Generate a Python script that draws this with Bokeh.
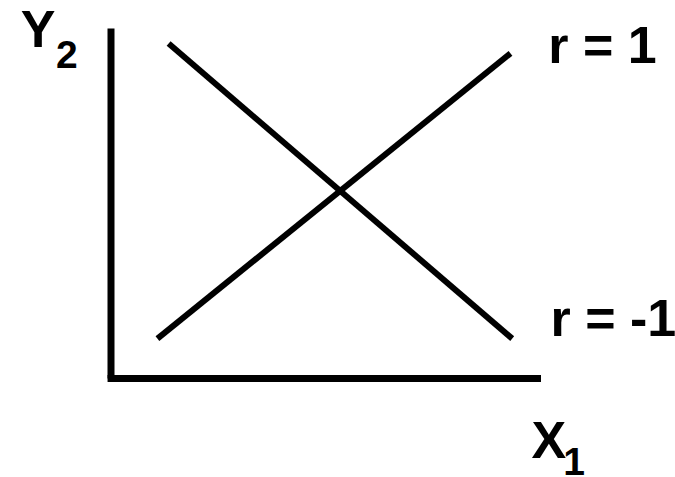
from bokeh.plotting import figure
from bokeh.models import Range1d
from bokeh.core.properties import value
from bokeh.embed import file_html
from bokeh.resources import INLINE

# Axis lines (data units)
y_axis_x = [0.0, 0.0]
y_axis_y = [0.0, 10.0]
x_axis_x = [-0.08, 10.0]
x_axis_y = [0.0, 0.0]

# Correlation lines
pos_x = [1.08, 9.29]
pos_y = [1.14, 9.29]
neg_x = [1.34, 9.33]
neg_y = [9.57, 1.14]

# Labels
label_text = ["r = 1", "r = -1"]
label_x = [10.17, 10.22]
label_y = [9.52, 1.72]

axis_main_text = ["Y", "X"]
axis_main_x = [-2.10, 9.78]
axis_main_y = [10.0, -1.76]
axis_sub_text = ["2", "1"]
axis_sub_x = [-1.28, 10.52]
axis_sub_y = [9.26, -2.37]

W, H = 675, 477
ox, oy = 110.5, 378   # origin in figure pixels
sx, sy = 43.0, 35.0

p = figure(width=W, height=H, output_backend="svg", toolbar_location=None,
           x_range=Range1d(-ox / sx, (W - ox) / sx),
           y_range=Range1d(-(H - oy) / sy, oy / sy),
           min_border=0, outline_line_color=None)
p.axis.visible = False
p.grid.visible = False
p.background_fill_color = "white"
p.border_fill_color = "white"

p.line(y_axis_x, y_axis_y, line_width=7, line_color="black", line_cap="butt")
p.line(x_axis_x, x_axis_y, line_width=7, line_color="black", line_cap="butt")
p.line(pos_x, pos_y, line_width=6, line_color="black", line_cap="butt")
p.line(neg_x, neg_y, line_width=6, line_color="black", line_cap="butt")

font = value("Liberation Sans")
p.text(x=label_x, y=label_y, text=label_text, text_font=font,
       text_font_size="52px", text_font_style="bold", text_color="black",
       text_align="left", text_baseline="alphabetic")
p.text(x=axis_main_x, y=axis_main_y, text=axis_main_text, text_font=font,
       text_font_size="52px", text_font_style="bold", text_color="black",
       text_align="left", text_baseline="alphabetic")
p.text(x=axis_sub_x, y=axis_sub_y, text=axis_sub_text, text_font=font,
       text_font_size="39px", text_font_style="bold", text_color="black",
       text_align="left", text_baseline="alphabetic")

open("out.html", "w").write(file_html(p, INLINE))
